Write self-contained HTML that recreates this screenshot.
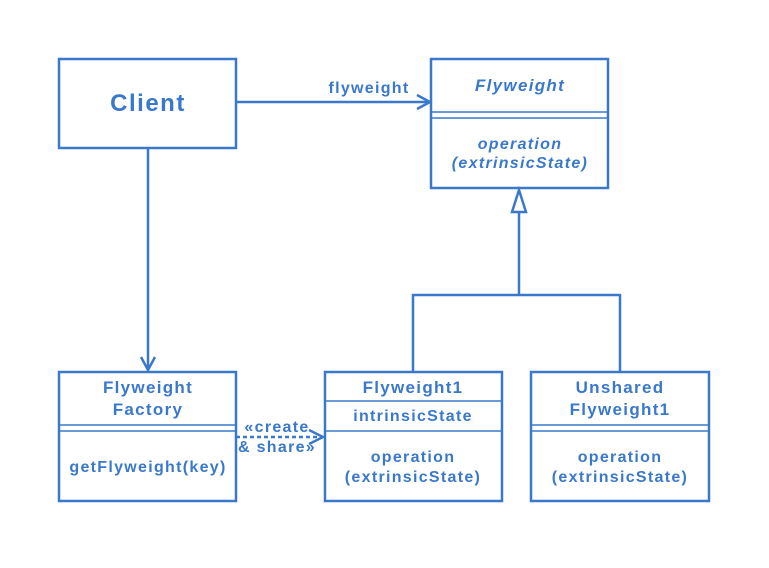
<!DOCTYPE html>
<html><head><style>body{margin:0;background:#fff}</style></head><body>
<svg width="769" height="563" xmlns="http://www.w3.org/2000/svg" font-family="Liberation Sans, sans-serif" font-weight="bold" fill="#3a78cc">
<g fill="none" stroke="#3a78cc" stroke-width="2.5">
<rect x="59" y="59" width="177" height="89"/>
<rect x="431" y="59" width="177" height="129"/>
<line x1="431" y1="112" x2="608" y2="112" stroke-width="1.5"/>
<line x1="431" y1="118" x2="608" y2="118" stroke-width="1.5"/>
<rect x="59" y="372" width="177" height="129"/>
<line x1="59" y1="425" x2="236" y2="425" stroke-width="1.5"/>
<line x1="59" y1="431" x2="236" y2="431" stroke-width="1.5"/>
<rect x="325" y="372" width="177" height="129"/>
<line x1="325" y1="401" x2="502" y2="401" stroke-width="1.5"/>
<line x1="325" y1="431" x2="502" y2="431" stroke-width="1.5"/>
<rect x="531" y="372" width="178" height="129"/>
<line x1="531" y1="425" x2="709" y2="425" stroke-width="1.5"/>
<line x1="531" y1="431" x2="709" y2="431" stroke-width="1.5"/>
<line x1="236" y1="102" x2="429" y2="102"/>
<polyline points="417,95 430,102 417,109"/>
<line x1="148" y1="148" x2="148" y2="370"/>
<polyline points="141,357 148,370 155,357"/>
<polygon points="519,190 512,212 526,212"/>
<polyline points="519,212 519,295"/>
<polyline points="413,372 413,295 620,295 620,372"/>
<line x1="236" y1="437" x2="322" y2="437" stroke-dasharray="4,3"/>
<polyline points="309,430 323,437 309,444"/>
</g>
<g text-anchor="middle" font-size="16" letter-spacing="1.3">
<text x="148" y="111" font-size="24" letter-spacing="1.5">Client</text>
<text x="369" y="93">flyweight</text>
<text x="520" y="91" font-style="italic" font-size="17">Flyweight</text>
<text x="520" y="149" font-style="italic">operation</text>
<text x="520" y="168" font-style="italic">(extrinsicState)</text>
<text x="148" y="393" font-size="17">Flyweight</text>
<text x="148" y="415" font-size="17">Factory</text>
<text x="148" y="472">getFlyweight(key)</text>
<text x="413" y="393" font-size="17">Flyweight1</text>
<text x="413" y="421">intrinsicState</text>
<text x="413" y="462">operation</text>
<text x="413" y="482">(extrinsicState)</text>
<text x="620" y="393" font-size="17">Unshared</text>
<text x="620" y="415" font-size="17">Flyweight1</text>
<text x="620" y="462">operation</text>
<text x="620" y="482">(extrinsicState)</text>
<text x="277" y="432">«create</text>
<text x="277" y="452">&amp; share»</text>
</g>
</svg>
</body></html>
